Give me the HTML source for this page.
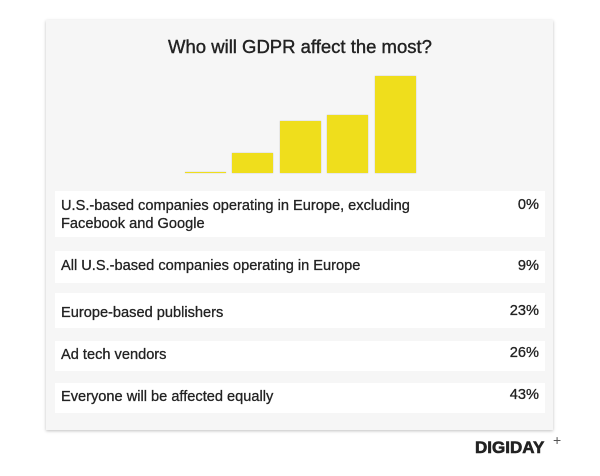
<!DOCTYPE html><html><head><style>
body{margin:0;width:600px;height:476px;background:#fff;position:relative;font-family:"Liberation Sans",sans-serif;overflow:hidden}
.card{position:absolute;left:46px;top:20px;width:507px;height:410px;background:#f6f6f6;box-shadow:0 1px 3px rgba(0,0,0,.25)}
.t{position:absolute;left:0;width:600px;top:36px;text-align:center;font-size:18.5px;color:#222;-webkit-text-stroke:0.4px #222}
.b{position:absolute;background:#efde1c;box-shadow:0 0 1px rgba(0,0,0,.3)}
.r{position:absolute;left:55px;width:490px;background:#fff;font-size:14.6px;color:#222;-webkit-text-stroke:0.3px #222}
.r span{position:absolute;left:6px}
.r i{position:absolute;right:6px;font-style:normal}
.logo{position:absolute;left:475px;top:438px;font-weight:900;font-size:17px;color:#222;letter-spacing:0px;-webkit-text-stroke:0.6px #222}
.plus{position:absolute;left:553px;top:432px;font-size:14px;color:#555}
</style></head><body>
<div class="card"></div>
<div class="t">Who will GDPR affect the most?</div>
<div class="b" style="left:185px;top:172px;width:41px;height:1px"></div>
<div class="b" style="left:232px;top:153px;width:41px;height:20px"></div>
<div class="b" style="left:280px;top:121px;width:41px;height:52px"></div>
<div class="b" style="left:327px;top:115px;width:41px;height:58px"></div>
<div class="b" style="left:375px;top:76px;width:41px;height:97px"></div>
<div class="r" style="top:191px;height:46px"><span style="top:6px;line-height:18px">U.S.-based companies operating in Europe, excluding<br>Facebook and Google</span><i style="top:6px">0%</i></div>
<div class="r" style="top:251px;height:32px"><span style="top:7px">All U.S.-based companies operating in Europe</span><i style="top:7px">9%</i></div>
<div class="r" style="top:293px;height:35px"><span style="top:12px">Europe-based publishers</span><i style="top:10px">23%</i></div>
<div class="r" style="top:341px;height:30px"><span style="top:6px">Ad tech vendors</span><i style="top:4px">26%</i></div>
<div class="r" style="top:383px;height:30px"><span style="top:6px">Everyone will be affected equally</span><i style="top:4px">43%</i></div>
<div class="logo">DIGIDAY</div><div class="plus">+</div>
</body></html>
